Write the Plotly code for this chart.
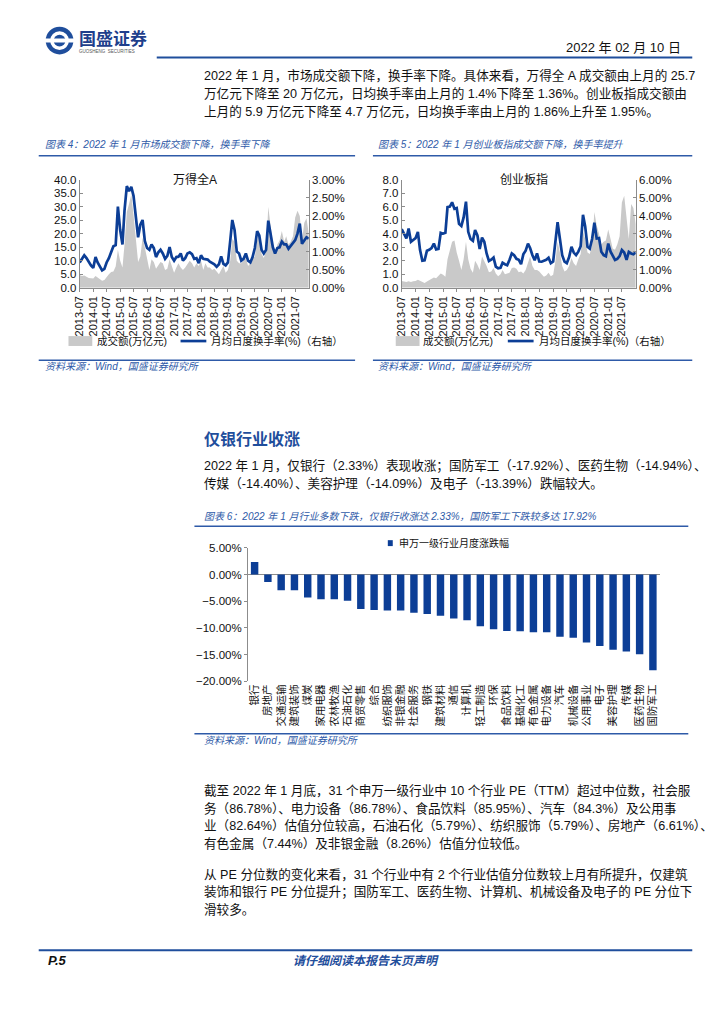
import plotly.graph_objects as go
import pandas as pd

# ---------------- data ----------------
MONTHS = pd.date_range("2013-07-01", "2022-01-01", freq="MS")

# 万得全A : 成交额(万亿元) and 月均日度换手率(%)
WA_VOL = [4.7, 4.3, 4.5, 4.0, 3.6, 3.5,
          3.4, 4.3, 3.8, 3.3, 2.6, 2.8, 4.0, 5.0, 5.8, 6.0, 7.8, 14.0,
          10.0, 7.5, 16.0, 28.0, 31.0, 34.5, 27.0, 19.0, 9.5, 11.5, 18.5, 15.0,
          10.0, 6.5, 10.5, 9.5, 7.0, 8.5, 9.5, 9.0, 6.5, 7.0, 10.5, 8.0,
          5.5, 7.5, 9.0, 7.5, 6.5, 7.5, 9.0, 10.0, 9.0, 7.5, 9.0, 8.0,
          10.0, 6.5, 9.0, 7.5, 7.5, 6.5, 7.0, 6.0, 5.0, 6.5, 8.0, 5.5,
          6.5, 10.0, 18.0, 17.0, 10.0, 9.0, 9.0, 10.0, 11.0, 8.0, 9.0, 11.0,
          11.5, 17.5, 19.5, 12.5, 11.0, 13.5, 30.0, 23.0, 16.5, 12.5, 16.0, 17.5,
          21.0, 17.0, 19.0, 16.0, 17.0, 19.0, 26.0, 28.5, 26.5, 17.5, 24.0, 25.7,
          20.0]
WA_TURN = [0.70, 0.80, 0.90, 0.82, 0.70, 0.62,
           0.55, 0.85, 0.70, 0.58, 0.48, 0.52, 0.70, 0.82, 0.98, 1.15, 1.18, 2.25,
           1.60, 1.20, 2.15, 2.82, 2.68, 2.80, 2.55, 2.05, 1.40, 1.75, 1.88, 1.30,
           1.10, 1.05, 1.20, 1.10, 0.85, 0.98, 1.05, 0.95, 0.80, 0.88, 1.13, 0.85,
           0.75, 0.85, 0.86, 0.95, 0.75, 0.82, 0.95, 0.98, 0.93, 0.80, 0.82, 0.68,
           0.90, 0.80, 0.80, 0.78, 0.72, 0.68, 0.65, 0.58, 0.65, 0.87, 0.66, 0.62,
           0.70, 1.30, 1.88, 1.60, 1.00, 0.95, 0.75, 0.80, 0.95, 0.75, 0.70, 0.85,
           1.10, 1.57, 1.45, 1.05, 0.95, 1.05, 1.86, 1.50, 1.12, 0.95, 1.10, 1.12,
           1.28, 1.20, 1.20, 1.08, 1.15, 1.22, 1.32, 1.50, 1.78, 1.22, 1.30, 1.40,
           1.36]

# 创业板指 : 成交额(万亿元) and 月均日度换手率(%)
CY_VOL = [0.50, 0.45, 0.42, 0.48, 0.42, 0.48,
          0.50, 0.58, 0.50, 0.38, 0.35, 0.45, 0.55, 0.62, 0.75, 0.70, 0.85, 1.05,
          0.95, 0.80, 2.10, 2.70, 3.40, 3.50, 2.60, 2.00, 1.30, 2.10, 3.40, 2.10,
          1.40, 1.10, 2.00, 1.70, 1.30, 2.30, 2.00, 1.60, 1.15, 1.20, 1.45, 1.05,
          0.85, 1.00, 1.30, 1.00, 1.05, 1.10, 1.45, 1.50, 1.40, 1.15, 1.20, 1.05,
          1.30, 1.80, 2.30, 1.60, 1.30, 1.30, 1.20, 1.00, 0.80, 0.90, 1.10, 0.85,
          0.95, 2.00, 3.40, 2.60, 1.60, 1.20, 1.30, 1.60, 2.20, 1.80, 1.60, 2.10,
          2.50, 4.20, 3.60, 2.60, 2.50, 3.20, 5.60, 4.60, 4.00, 3.20, 3.40, 3.50,
          4.30, 3.60, 2.90, 2.80, 3.20, 3.80, 6.30, 6.80, 5.40, 3.60, 6.20, 5.90,
          4.70]
CY_TURN = [3.25, 2.95, 2.73, 3.28, 2.55, 2.65,
           2.75, 3.10, 2.10, 1.50, 1.52, 2.05, 2.10, 2.20, 2.45, 2.12, 2.15, 3.05,
           3.00, 3.05, 4.47, 4.50, 4.74, 4.38, 4.42, 3.55, 3.43, 3.90, 4.78, 3.10,
           2.70, 2.60, 3.20, 2.90, 2.15, 2.78, 2.55, 1.90, 1.48, 1.55, 1.67, 1.17,
           1.07, 1.10, 1.38, 1.30, 1.25, 1.55, 1.90, 1.80, 1.60, 1.55, 1.30, 1.85,
           2.05, 2.45, 2.20, 1.80, 1.52, 1.90, 1.45, 1.44, 1.48, 1.55, 1.66, 1.36,
           1.45, 2.50, 3.64, 2.70, 1.80, 1.44, 1.36, 1.70, 2.27, 1.95, 1.81, 2.00,
           2.30, 4.05, 3.40, 2.27, 2.17, 2.70, 3.61, 2.73, 2.75, 1.99, 1.81, 1.75,
           2.45, 2.00, 1.75, 1.54, 1.60, 1.75, 2.09, 1.95, 1.54, 1.99, 1.90, 1.86,
           1.95]

TIME_TICKS = ["2013-07", "2014-01", "2014-07", "2015-01", "2015-07", "2016-01",
              "2016-07", "2017-01", "2017-07", "2018-01", "2018-07", "2019-01",
              "2019-07", "2020-01", "2020-07", "2021-01", "2021-07"]

# 申万一级行业 2022年1月 涨跌幅(%)
INDUSTRIES = ["银行", "房地产", "交通运输", "建筑装饰", "煤炭", "家用电器", "农林牧渔",
              "石油石化", "商贸零售", "综合", "纺织服饰", "非银金融", "社会服务", "钢铁",
              "建筑材料", "通信", "计算机", "轻工制造", "环保", "食品饮料", "基础化工",
              "有色金属", "电力设备", "汽车", "机械设备", "公用事业", "电子", "美容护理",
              "传媒", "医药生物", "国防军工"]
IND_CHG = [2.33, -1.38, -2.93, -2.95, -4.30, -4.62, -4.65, -4.90, -6.45, -6.65, -6.72,
           -6.74, -7.15, -7.40, -7.70, -8.25, -8.55, -9.70, -10.25, -10.60, -10.62,
           -10.80, -10.82, -11.65, -11.85, -12.75, -13.39, -14.09, -14.40, -14.94, -17.92]

# ---------------- styling helpers ----------------
W, H = 724, 1024
def px(x):
    return x / W
def py(y):
    return 1 - y / H

SANS = "Liberation Sans, Arial, Noto Sans CJK SC, sans-serif"
BLUE = "#0c3e96"
LBLUE = "#2e5aa8"
GREY = "#c9c9c9"
AXC = "#8c8c8c"

fig = go.Figure()

tickdates = [pd.Timestamp(t + "-01") for t in TIME_TICKS]

# chart 1
fig.add_trace(go.Scatter(x=MONTHS, y=WA_VOL, mode="lines", fill="tozeroy",
                         line=dict(width=0, color=GREY), fillcolor=GREY,
                         xaxis="x", yaxis="y", showlegend=False))
fig.add_trace(go.Scatter(x=MONTHS, y=WA_TURN, mode="lines",
                         line=dict(width=2.7, color=BLUE),
                         xaxis="x", yaxis="y2", showlegend=False))
# chart 2
fig.add_trace(go.Scatter(x=MONTHS, y=CY_VOL, mode="lines", fill="tozeroy",
                         line=dict(width=0, color=GREY), fillcolor=GREY,
                         xaxis="x2", yaxis="y3", showlegend=False))
fig.add_trace(go.Scatter(x=MONTHS, y=CY_TURN, mode="lines",
                         line=dict(width=2.7, color=BLUE),
                         xaxis="x2", yaxis="y4", showlegend=False))
# bar chart
fig.add_trace(go.Bar(x=INDUSTRIES, y=IND_CHG, marker=dict(color=BLUE, line=dict(width=0)),
                     xaxis="x3", yaxis="y5", showlegend=False))

ydom = [py(285), py(175.7)]
xcommon = dict(type="date", range=["2013-07-01", "2022-01-01"], tickvals=tickdates,
               ticktext=TIME_TICKS, tickangle=-90, tickfont=dict(size=11, color="#111"),
               ticks="outside", ticklen=3, tickcolor=AXC, showline=True, linecolor=AXC,
               linewidth=1, showgrid=False, zeroline=False)
ycommon = dict(showgrid=False, zeroline=False, showline=True, linecolor=AXC, linewidth=1,
               ticks="inside", ticklen=3, tickcolor=AXC, tickfont=dict(size=11.5, color="#111"))

fig.update_layout(
    xaxis=dict(domain=[px(74.3), px(305.3)], anchor="y", **xcommon),
    yaxis=dict(domain=ydom, anchor="x", range=[0, 40], dtick=5, tickformat=".1f", **ycommon),
    yaxis2=dict(overlaying="y", anchor="x", side="right", range=[0, 3], dtick=0.5,
                tickformat=".2f", ticksuffix="%", **ycommon),
    xaxis2=dict(domain=[px(399), px(635)], anchor="y3", **xcommon),
    yaxis3=dict(domain=ydom, anchor="x2", range=[0, 8], dtick=1, tickformat=".1f", **ycommon),
    yaxis4=dict(overlaying="y3", anchor="x2", side="right", range=[0, 6], dtick=1,
                tickformat=".2f", ticksuffix="%", **ycommon),
    xaxis3=dict(domain=[px(244), px(659)], anchor="y5", type="category", tickangle=-90,
                tickfont=dict(size=10.5, color="#111", family="Noto Sans CJK SC"),
                showline=False, ticks="", showgrid=False),
    yaxis5=dict(domain=[py(683.3), py(548.3)], anchor="x3", range=[-20, 5], dtick=5,
                tickformat=".2f", ticksuffix="%", showgrid=False, zeroline=True,
                zerolinecolor=AXC, zerolinewidth=1, showline=True, linecolor=AXC,
                ticks="outside", ticklen=3, tickcolor=AXC,
                tickfont=dict(size=11.5, color="#111")),
    bargap=0.44,
)

# ---------------- shapes ----------------
shapes = []
def hline(x0, x1, y, color=LBLUE, w=1.5):
    shapes.append(dict(type="line", xref="paper", yref="paper", x0=px(x0), x1=px(x1),
                       y0=py(y), y1=py(y), line=dict(color=color, width=w)))

hline(152, 692, 52, color="#1f4e9c", w=2)
hline(33, 352, 151.5)
hline(370, 692, 151.5)
hline(33, 352, 358.5)
hline(370, 692, 358.5)
hline(190, 688, 526.5)
hline(190, 688, 736.5)
hline(33, 692, 955.5, color="#1f4e9c", w=2)

# logo
shapes.append(dict(type="circle", xref="paper", yref="paper", x0=px(40), x1=px(68),
                   y0=py(49), y1=py(21), fillcolor="#1f4e9c", line=dict(width=0)))
shapes.append(dict(type="circle", xref="paper", yref="paper", x0=px(44.5), x1=px(63.5),
                   y0=py(44.5), y1=py(25.5), fillcolor="white", line=dict(width=0)))
shapes.append(dict(type="circle", xref="paper", yref="paper", x0=px(48), x1=px(60),
                   y0=py(41), y1=py(29), fillcolor="#1f4e9c", line=dict(width=0)))
shapes.append(dict(type="rect", xref="paper", yref="paper", x0=px(38), x1=px(70),
                   y0=py(37), y1=py(33), fillcolor="white", line=dict(width=0)))

# legends of the two line charts
def legend_pair(gx, lx, y):
    shapes.append(dict(type="rect", xref="paper", yref="paper", x0=px(gx), x1=px(gx + 24),
                       y0=py(y + 5), y1=py(y - 5), fillcolor=GREY, line=dict(width=0)))
    shapes.append(dict(type="line", xref="paper", yref="paper", x0=px(lx), x1=px(lx + 26),
                       y0=py(y), y1=py(y), line=dict(color=BLUE, width=2.7)))
legend_pair(63, 176, 339)
legend_pair(393, 506, 339)
# bar legend swatch
shapes.append(dict(type="rect", xref="paper", yref="paper", x0=px(385), x1=px(390),
                   y0=py(546.5), y1=py(540.5), fillcolor=BLUE, line=dict(width=0)))

fig.update_layout(shapes=shapes)

# ---------------- texts ----------------
ann = []
def txt(x, y, s, size=12.5, color="#111", anchor="left", family=SANS):
    ann.append(dict(xref="paper", yref="paper", x=px(x), y=py(y), text=s, showarrow=False,
                    xanchor=anchor, yanchor="middle", font=dict(size=size, color=color, family=family)))

# header
txt(72, 32, "<b>国盛证券</b>", size=17, color="#1f3f8c", family="Noto Sans CJK SC")
txt(72, 46.5, "GUOSHENG  SECURITIES", size=4.5, color="#555")
txt(683, 42, "2022 年 02 月 10 日", size=13, anchor="right")

BODY = 12.6
para1 = ["2022 年 1 月，市场成交额下降，换手率下降。具体来看，万得全 A 成交额由上月的 25.7",
         "万亿元下降至 20 万亿元，日均换手率由上月的 1.4%下降至 1.36%。创业板指成交额由",
         "上月的 5.9 万亿元下降至 4.7 万亿元，日均换手率由上月的 1.86%上升至 1.95%。"]
for i, s in enumerate(para1):
    txt(198, 70 + 18.5 * i, s, size=BODY)

CAP = 10
txt(37, 140, "<i>图表 4：2022 年 1 月市场成交额下降，换手率下降</i>", size=CAP, color=LBLUE)
txt(373, 140, "<i>图表 5：2022 年 1 月创业板指成交额下降，换手率提升</i>", size=CAP, color=LBLUE)
txt(191, 176, "万得全A", size=12, anchor="center")
txt(522, 176, "创业板指", size=12, anchor="center")
txt(90, 339, "成交额(万亿元)", size=10.5)
txt(205, 339, "月均日度换手率(%)（右轴）", size=10.5)
txt(418, 339, "成交额(万亿元)", size=10.5)
txt(535, 339, "月均日度换手率(%)（右轴）", size=10.5)
txt(37, 365, "<i>资料来源：Wind，国盛证券研究所</i>", size=CAP, color=LBLUE)
txt(373, 365, "<i>资料来源：Wind，国盛证券研究所</i>", size=CAP, color=LBLUE)

txt(198, 437, "<b>仅银行业收涨</b>", size=16, color="#1f4e9c", family="Noto Sans CJK SC")
para2 = ["2022 年 1 月，仅银行（2.33%）表现收涨；国防军工（-17.92%）、医药生物（-14.94%）、",
         "传媒（-14.40%）、美容护理（-14.09%）及电子（-13.39%）跌幅较大。"]
for i, s in enumerate(para2):
    txt(198, 465 + 18 * i, s, size=BODY)
txt(198, 517, "<i>图表 6：2022 年 1 月行业多数下跌，仅银行收涨达 2.33%，国防军工下跌较多达 17.92%</i>",
    size=CAP, color=LBLUE)
txt(394, 543.5, "申万一级行业月度涨跌幅", size=10)
txt(198, 743, "<i>资料来源：Wind，国盛证券研究所</i>", size=CAP, color=LBLUE)

para3 = ["截至 2022 年 1 月底，31 个申万一级行业中 10 个行业 PE（TTM）超过中位数，社会服",
         "务（86.78%）、电力设备（86.78%）、食品饮料（85.95%）、汽车（84.3%）及公用事",
         "业（82.64%）估值分位较高，石油石化（5.79%）、纺织服饰（5.79%）、房地产（6.61%）、",
         "有色金属（7.44%）及非银金融（8.26%）估值分位较低。"]
for i, s in enumerate(para3):
    txt(198, 794 + 17.7 * i, s, size=BODY)
para4 = ["从 PE 分位数的变化来看，31 个行业中有 2 个行业估值分位数较上月有所提升，仅建筑",
         "装饰和银行 PE 分位提升；国防军工、医药生物、计算机、机械设备及电子的 PE 分位下",
         "滑较多。"]
for i, s in enumerate(para4):
    txt(198, 879 + 17.7 * i, s, size=BODY)

txt(40, 966, "<b><i>P.5</i></b>", size=13)
txt(287, 966, "<b><i>请仔细阅读本报告末页声明</i></b>", size=12, color="#1f4e9c")

fig.update_layout(annotations=ann, width=W, height=H, margin=dict(l=0, r=0, t=0, b=0),
                  paper_bgcolor="white", plot_bgcolor="white",
                  font=dict(family=SANS, color="#111"))

fig.write_html("out.html", config={"displayModeBar": False},
               post_script="document.body.style.margin='0';document.body.style.overflow='hidden';")
